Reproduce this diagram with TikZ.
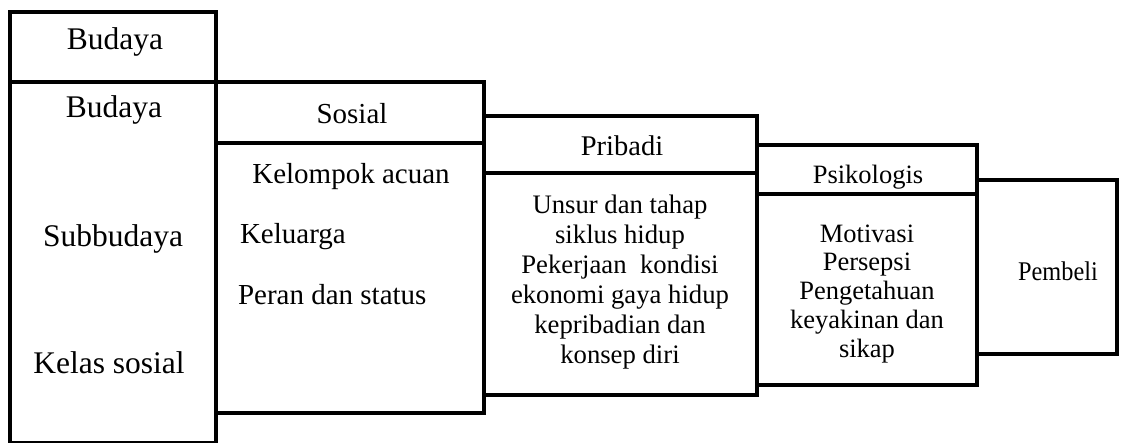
\documentclass[tikz,border=0pt]{standalone}
\usepackage{fontspec}
\usepackage{graphicx}
\setmainfont{Liberation Serif}
\begin{document}
\begin{tikzpicture}[x=1pt,y=-1pt,
  frame/.style={draw, line width=4.6pt, outer sep=0pt, inner sep=0pt, anchor=north west, line join=miter},
  lbl/.style={anchor=base, inner sep=0pt, outer sep=0pt},
  fa/.style={font=\fontsize{31.5}{34}\selectfont},
  fb/.style={font=\fontsize{29}{32}\selectfont},
  fc/.style={font=\fontsize{26.7}{30}\selectfont},
  fd/.style={font=\fontsize{26.5}{30}\selectfont},
  fe/.style={font=\fontsize{27}{30}\selectfont}]
\useasboundingbox (0,0) rectangle (1121,442);
% frames
\node[frame, minimum width=206, minimum height=431] (bud) at (10,12) {};
\node[frame, minimum width=206, minimum height=70] (budh) at (10,12) {};
\node[frame, minimum width=268, minimum height=331] (sos) at (216,82) {};
\node[frame, minimum width=268, minimum height=61] (sosh) at (216,82) {};
\node[frame, minimum width=273, minimum height=279] (pri) at (484,116) {};
\node[frame, minimum width=273, minimum height=57] (prih) at (484,116) {};
\node[frame, minimum width=220, minimum height=240] (psi) at (757,145) {};
\node[frame, minimum width=220, minimum height=49] (psih) at (757,145) {};
\node[frame, minimum width=140, minimum height=174] (pem) at (977,180) {};
% Budaya
\node[lbl, fa] (t1) at (115,49) {Budaya};
\node[lbl, fa] (t2) at (114,117) {Budaya};
\node[lbl, fa] (t3) at (113,246) {Subbudaya};
\node[lbl, fa] (t4) at (109,373) {Kelas sosial};
% Sosial
\node[lbl, fb] (s1) at (352,123) {Sosial};
\node[lbl, fb] (s2) at (351,183) {Kelompok acuan};
\node[lbl, fb, anchor=base west] (s3) at (240,243) {Keluarga};
\node[lbl, fb, anchor=base west] (s4) at (238,304) {Peran dan status};
% Pribadi
\node[lbl, font=\fontsize{28.5}{32}\selectfont] (p0) at (622,155) {Pribadi};
\foreach \t/\yy [count=\i] in {Unsur dan tahap/213, siklus hidup/243, {Pekerjaan\ \ kondisi}/273, ekonomi gaya hidup/303, kepribadian dan/333, konsep diri/363}
  \node[lbl, fc] (p\i) at (620,\yy) {\t};
% Psikologis
\node[lbl, fd] (q0) at (868,183) {Psikologis};
\foreach \t/\yy [count=\i] in {Motivasi/242, Persepsi/270, Pengetahuan/299, keyakinan dan/328, sikap/357}
  \node[lbl, fd] (q\i) at (867,\yy) {\t};
% Pembeli
\node[lbl, fe] (b1) at (1058,280) {\scalebox{0.9}[1]{Pembeli}};
\end{tikzpicture}
\end{document}
